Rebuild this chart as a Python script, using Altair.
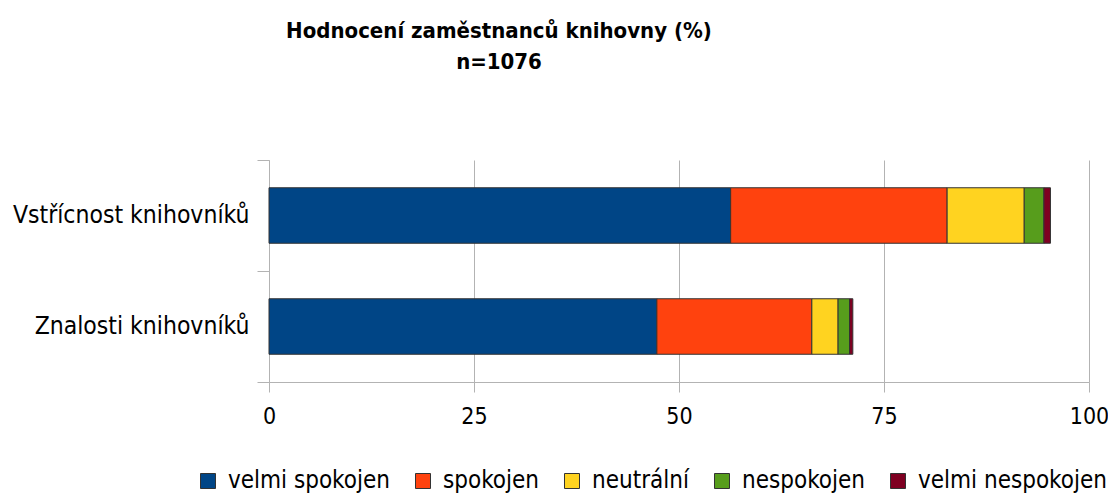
import altair as alt
import pandas as pd

categories = ["Vstřícnost knihovníků", "Znalosti knihovníků"]
levels = ["velmi spokojen", "spokojen", "neutrální", "nespokojen", "velmi nespokojen"]
colors = ["#004586", "#ff420e", "#ffd320", "#579d1c", "#7e0021"]
vstricnost = [56.3, 26.4, 9.4, 2.4, 0.8]
znalosti = [47.3, 18.9, 3.2, 1.4, 0.4]

rows = []
for cat, vals in zip(categories, [vstricnost, znalosti]):
    for i, (lvl, v) in enumerate(zip(levels, vals)):
        rows.append({"kategorie": cat, "hodnoceni": lvl, "poradi": i, "procento": v})
df = pd.DataFrame(rows)

FONT = "DejaVu Sans Condensed, DejaVu Sans"

chart = alt.Chart(df).mark_bar(stroke="#333333", strokeWidth=1, height={"band": 0.5}).encode(
    y=alt.Y("kategorie:N", sort=categories, title=None,
            scale=alt.Scale(paddingInner=0, paddingOuter=0),
            axis=alt.Axis(tickBand="extent", tickSize=12, labelPadding=8,
                          domainColor="#b3b3b3", tickColor="#b3b3b3",
                          labelFont=FONT, labelFontSize=24.5, labelColor="black",
                          labelLimit=400)),
    x=alt.X("procento:Q", stack="zero", title=None,
            scale=alt.Scale(domain=[0, 100], nice=False),
            axis=alt.Axis(values=[0, 25, 50, 75, 100], tickSize=10, labelFlush=False,
                          labelPadding=13, domainColor="#b3b3b3", tickColor="#b3b3b3",
                          gridColor="#b3b3b3", grid=True,
                          labelFont=FONT, labelFontSize=23, labelColor="black")),
    color=alt.Color("hodnoceni:N", sort=levels,
                    scale=alt.Scale(domain=levels, range=colors),
                    legend=alt.Legend(title=None, orient="none", direction="horizontal",
                                      legendX=-73, legendY=309, padding=0,
                                      symbolType="square", symbolSize=225,
                                      symbolStrokeColor="#333333", symbolStrokeWidth=1,
                                      symbolOpacity=1,
                                      labelFont=FONT, labelFontSize=24, labelColor="black",
                                      labelOffset=8, columnPadding=21, labelLimit=400)),
    order=alt.Order("poradi:Q"),
).properties(
    width=820,
    height=222,
    padding={"left": 261, "top": 152, "right": 19, "bottom": 112},
    autosize=alt.AutoSizeParams(type="none"),
    title=alt.TitleParams(
        text=["Hodnocení zaměstnanců knihovny (%)", "n=1076"],
        font=FONT, fontSize=22, fontWeight="bold", color="black",
        anchor="middle", frame="group", dx=-180, offset=73, lineHeight=31,
    ),
).configure_view(stroke=None)

chart.save("out.html", embed_options={"renderer": "svg", "actions": False})
